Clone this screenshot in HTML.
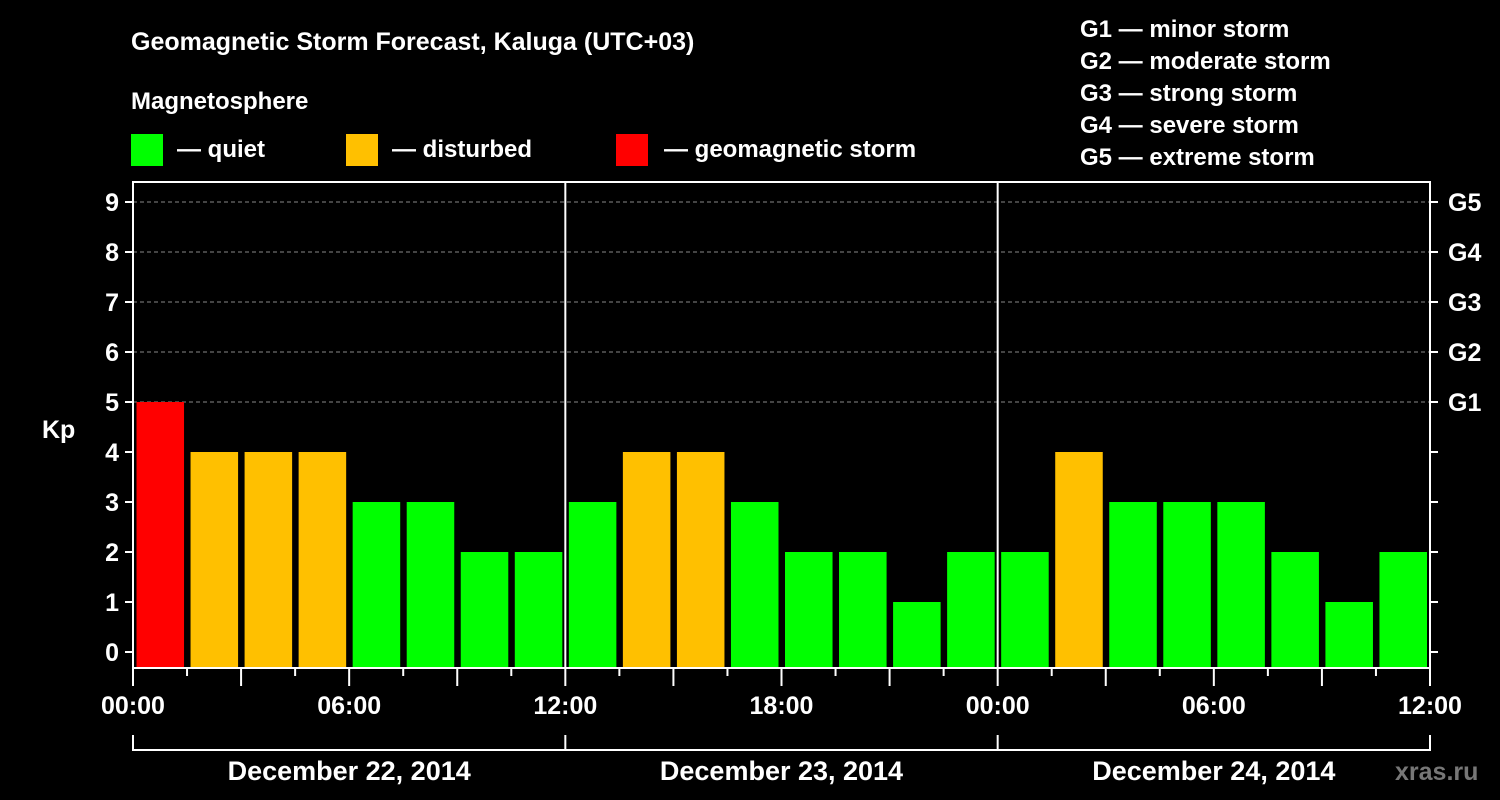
<!DOCTYPE html>
<html><head><meta charset="utf-8"><style>
html,body{margin:0;padding:0;background:#000;}
svg{display:block;font-family:"Liberation Sans",sans-serif;font-weight:bold;}
</style></head><body>
<svg width="1500" height="800" viewBox="0 0 1500 800">
<text x="131" y="50" font-size="25" fill="#fff">Geomagnetic Storm Forecast, Kaluga (UTC+03)</text>
<text x="131" y="109" font-size="24" fill="#fff">Magnetosphere</text>
<g><rect x="131" y="134" width="32" height="32" fill="#00ff00"/><text x="177" y="157" font-size="24" fill="#fff">— quiet</text></g>
<g><rect x="346" y="134" width="32" height="32" fill="#ffc000"/><text x="392" y="157" font-size="24" fill="#fff">— disturbed</text></g>
<g><rect x="616" y="134" width="32" height="32" fill="#ff0000"/><text x="664" y="157" font-size="24" fill="#fff">— geomagnetic storm</text></g>
<g font-size="24" fill="#fff">
<text x="1080" y="37">G1 — minor storm</text>
<text x="1080" y="69">G2 — moderate storm</text>
<text x="1080" y="101">G3 — strong storm</text>
<text x="1080" y="133">G4 — severe storm</text>
<text x="1080" y="165">G5 — extreme storm</text>
</g>
<text x="42" y="438" font-size="25" fill="#fff">Kp</text>
<g id="plot"></g>
<text x="1395" y="780" font-size="25" fill="#777">xras.ru</text>
</svg>
<script>
const values=[5,4,4,4,3,3,2,2, 3,4,4,3,2,2,1,2, 2,4,3,3,3,2,1,2];
const days=["December 22, 2014","December 23, 2014","December 24, 2014"];
const hourLabels=["00:00","06:00","12:00","18:00"];
const gLabels=["G1","G2","G3","G4","G5"];
const NS="http://www.w3.org/2000/svg";
const g=document.getElementById('plot');
const L=133,R=1430,T=182,B=668;
const slot=(R-L)/values.length;
const y=v=>652-50*v;
const x=i=>L+i*slot;
function el(t,a){const e=document.createElementNS(NS,t);for(const k in a)e.setAttribute(k,a[k]);g.appendChild(e);return e;}
for(let v=5;v<=9;v++){const l=el('line',{x1:L,x2:R,y1:y(v),y2:y(v),stroke:'#888','stroke-dasharray':'4,3','stroke-width':1});

}
values.forEach((v,i)=>{const c=v>=5?'#ff0000':v==4?'#ffc000':'#00ff00';
const r=el('rect',{x:x(i)+3.5,y:y(v),width:slot-6.5,height:B-y(v),fill:c});

});
el('rect',{x:L,y:T,width:R-L,height:B-T,fill:'none',stroke:'#fff','stroke-width':2});
for(let d=1;d<days.length;d++){el('line',{x1:x(d*8),x2:x(d*8),y1:T,y2:B,stroke:'#fff','stroke-width':2});}
for(let v=0;v<=9;v++){
el('line',{x1:L-8,x2:L,y1:y(v),y2:y(v),stroke:'#fff','stroke-width':2});
el('line',{x1:R,x2:R+8,y1:y(v),y2:y(v),stroke:'#fff','stroke-width':2});
const t=el('text',{x:L-14,y:y(v)+9,'font-size':25,fill:'#fff','text-anchor':'end'});t.textContent=v;


if(v>=5){const gt=el('text',{x:R+18,y:y(v)+9,'font-size':25,fill:'#fff'});gt.textContent=gLabels[v-5];

}}
for(let i=0;i<=values.length;i++){const major=i%2==0;
el('line',{x1:x(i),x2:x(i),y1:B,y2:B+(major?18:8),stroke:'#fff','stroke-width':2});
if(i%4==0){const t=el('text',{x:x(i),y:B+46,'font-size':25,fill:'#fff','text-anchor':'middle'});t.textContent=hourLabels[(i/4)%4];

}}
el('line',{x1:L,x2:R,y1:750,y2:750,stroke:'#fff','stroke-width':2});
for(let d=0;d<=days.length;d++)el('line',{x1:x(d*8),x2:x(d*8),y1:735,y2:751,stroke:'#fff','stroke-width':2});
days.forEach((s,d)=>{const t=el('text',{x:(x(d*8)+x(d*8+8))/2,y:780,'font-size':27,fill:'#fff','text-anchor':'middle'});t.textContent=s;

});
</script>
</body></html>
